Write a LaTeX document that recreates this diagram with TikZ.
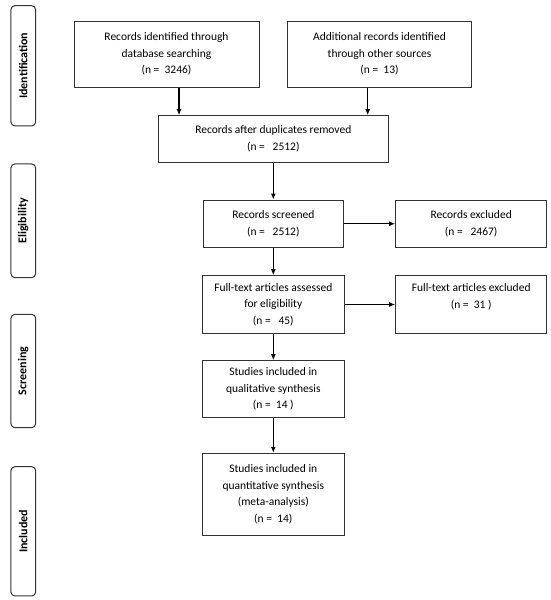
\documentclass[tikz,border=0pt]{standalone}
\usepackage{fontspec}
\setmainfont{Carlito}
\usetikzlibrary{arrows.meta}
\definecolor{edge}{HTML}{333333}
\begin{document}
\begin{tikzpicture}[x=1pt,y=-1pt,
  box/.style={draw=edge,line width=1pt,inner sep=0pt,align=center,
    font=\fontsize{11.5}{16.5}\selectfont},
  side/.style={draw=edge,line width=1pt,rounded corners=4pt,inner sep=0pt,
    rotate=90,font=\fontsize{12}{14}\selectfont\bfseries},
  arr/.style={draw=black,line width=1.2pt,-{Latex[length=6pt,width=5pt]}}]
\useasboundingbox[fill=white] (0,0) rectangle (550,600);
% side labels
\node[side,minimum width=120.3pt,minimum height=24.7pt] (sid) at (23.3,65.8) {Identification};
\node[side,minimum width=113.7pt,minimum height=24.7pt] (sel) at (23.3,220.8) {Eligibility};
\node[side,minimum width=113.4pt,minimum height=24.7pt] (ssc) at (23.3,371) {Screening};
\node[side,minimum width=129.3pt,minimum height=24.7pt] (sin) at (23.3,531.3) {Included};
% boxes
\node[box,minimum width=185pt,minimum height=66pt] (b1) at (166.5,54) {Records identified through\\database searching\\(n =\ \ 3246)};
\node[box,minimum width=184.4pt,minimum height=66pt] (b2) at (379.5,54) {Additional records identified\\through other sources\\(n =\ \ 13)};
\node[box,minimum width=230pt,minimum height=46.6pt] (b3) at (273.3,139) {Records after duplicates removed\\(n =\ \ \ 2512)};
\node[box,minimum width=140.5pt,minimum height=47.3pt] (rs) at (273.3,223.7) {Records screened\\(n =\ \ \ 2512)};
\node[box,minimum width=151pt,minimum height=47.3pt] (re) at (471.2,223.7) {Records excluded\\(n =\ \ \ 2467)};
\node[box,minimum width=141.5pt,minimum height=57.6pt] (ft) at (273.3,304.5) {Full-text articles assessed\\for eligibility\\(n =\ \ \ 45)};
\node[box,minimum width=151pt,minimum height=57.6pt] (fe) at (471.2,304.5) {Full-text articles excluded\\(n =\ \ 31 )\\\mbox{}};
\node[box,minimum width=141.5pt,minimum height=56.6pt] (ql) at (273.3,389) {Studies included in\\qualitative synthesis\\(n =\ \ 14 )};
\node[box,minimum width=141.5pt,minimum height=81.7pt] (qn) at (273.3,494.2) {Studies included in\\quantitative synthesis\\(meta-analysis)\\(n =\ \ 14)};
% arrow columns
\coordinate (c1) at (179,0);
\coordinate (c2) at (367.7,0);
\draw[arr] (b1.south -| c1) -- (b3.north -| c1);
\draw[arr] (b2.south -| c2) -- (b3.north -| c2);
\draw[arr] (b3.south) -- (rs.north);
\draw[arr] (rs.east) -- (re.west);
\draw[arr] (rs.south) -- (ft.north);
\draw[arr] (ft.east) -- (fe.west);
\draw[arr] (ft.south) -- (ql.north);
\draw[arr] (ql.south) -- (qn.north);
\end{tikzpicture}
\end{document}
